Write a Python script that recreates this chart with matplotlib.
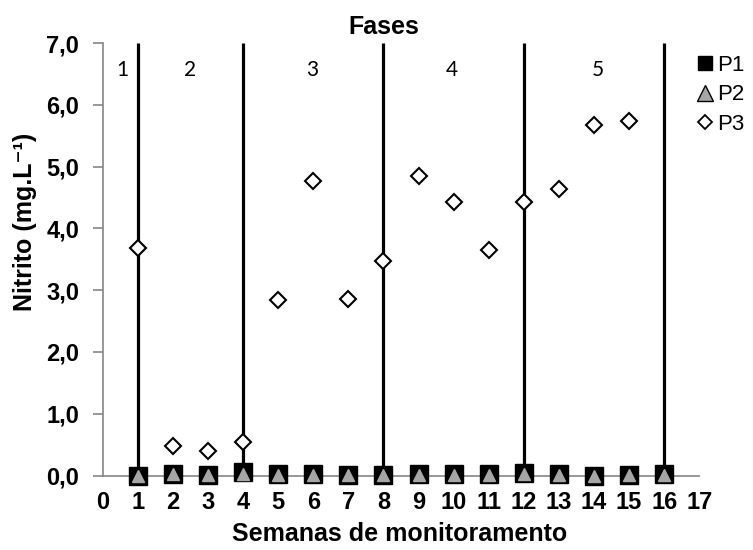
import matplotlib
matplotlib.use("Agg")
import matplotlib.pyplot as plt
from matplotlib.lines import Line2D

plt.rcParams['font.family'] = ['Liberation Sans', 'DejaVu Sans']

# semanas de monitoramento
weeks = list(range(1, 17))
p1 = [0.00, 0.03, 0.01, 0.05, 0.02, 0.02, 0.01, 0.01, 0.02, 0.02, 0.02, 0.04, 0.02, 0.00, 0.01, 0.02]
p2 = [0.00, 0.02, 0.01, 0.03, 0.01, 0.01, 0.01, 0.01, 0.01, 0.01, 0.01, 0.02, 0.01, 0.00, 0.01, 0.01]
weeks_p3 = list(range(1, 16))
p3 = [3.69, 0.48, 0.39, 0.54, 2.84, 4.77, 2.86, 3.47, 4.85, 4.43, 3.65, 4.42, 4.64, 5.67, 5.73]

# limites das fases
phase_bounds = [1, 4, 8, 12, 16]
phase_labels = ['1', '2', '3', '4', '5']
phase_label_x = [0.56, 2.49, 5.96, 9.96, 14.1]

grey = '#868686'
tick_font = {'size': 17, 'weight': 'bold'}

fig = plt.figure(figsize=(7.53, 5.5), dpi=100)
ax = fig.add_axes([0.1364, 0.1353, 0.7923, 0.7865])

ax.vlines(phase_bounds, 0, 7, colors='black', linewidth=2.3, zorder=2)

ax.plot(weeks, p1, linestyle='none', marker='s', markersize=13, clip_on=False,
        markerfacecolor='black', markeredgecolor='black', zorder=3)
ax.plot(weeks, p2, linestyle='none', marker='^', markersize=8, clip_on=False,
        markerfacecolor='#A6A6A6', markeredgecolor='#A6A6A6', zorder=4)
ax.plot(weeks_p3, p3, linestyle='none', marker='D', markersize=8, clip_on=False,
        markerfacecolor='white', markeredgecolor='black', markeredgewidth=1.5, zorder=5)

for lx, lab in zip(phase_label_x, phase_labels):
    ax.text(lx, 6.57, lab, ha='center', va='center', fontsize=15,
            family=['Lato', 'DejaVu Sans'])

ax.set_xlim(0, 17)
ax.set_ylim(0, 7)
ax.set_xticks(range(0, 18))
ax.set_xticklabels([str(i) for i in range(0, 18)], fontdict=tick_font)
ax.set_xticks([0, 17], minor=True)
ax.tick_params(axis='x', which='major', length=0, pad=11)
ax.tick_params(axis='x', which='minor', length=7, color=grey, width=1.2)
ax.set_yticks([i for i in range(0, 8)])
ax.set_yticklabels([f'{i},0' for i in range(0, 8)], fontdict=tick_font)
ax.tick_params(axis='y', length=7, color=grey, width=1.2, pad=10)

for s in ['top', 'right']:
    ax.spines[s].set_visible(False)
for s in ['left', 'bottom']:
    ax.spines[s].set_color(grey)
    ax.spines[s].set_linewidth(1.2)

fig.text(384 / 753, 1 - 27 / 550, 'Fases', ha='center', va='center',
         fontsize=18, fontweight='bold')
fig.text(400 / 753, 1 - 534 / 550, 'Semanas de monitoramento', ha='center', va='center',
         fontsize=18, fontweight='bold')
fig.text(25 / 753, 1 - 222 / 550, 'Nitrito (mg.L\u207b\u00b9)', ha='center', va='center',
         rotation=90, fontsize=18, fontweight='bold')

handles = [
    Line2D([], [], linestyle='none', marker='s', markersize=10,
           markerfacecolor='black', markeredgecolor='black'),
    Line2D([], [], linestyle='none', marker='^', markersize=11,
           markerfacecolor='#A6A6A6', markeredgecolor='black', markeredgewidth=1),
    Line2D([], [], linestyle='none', marker='D', markersize=7,
           markerfacecolor='white', markeredgecolor='black', markeredgewidth=1.3),
]
fig.legend(handles, ['P1', 'P2', 'P3'], loc='upper left',
           bbox_to_anchor=(697 / 753, 1 - 55 / 550), frameon=False,
           fontsize=16, handlelength=0.7, handletextpad=0.2, labelspacing=0.38,
           borderpad=0, borderaxespad=0)

fig.savefig('out.png', dpi=100)
